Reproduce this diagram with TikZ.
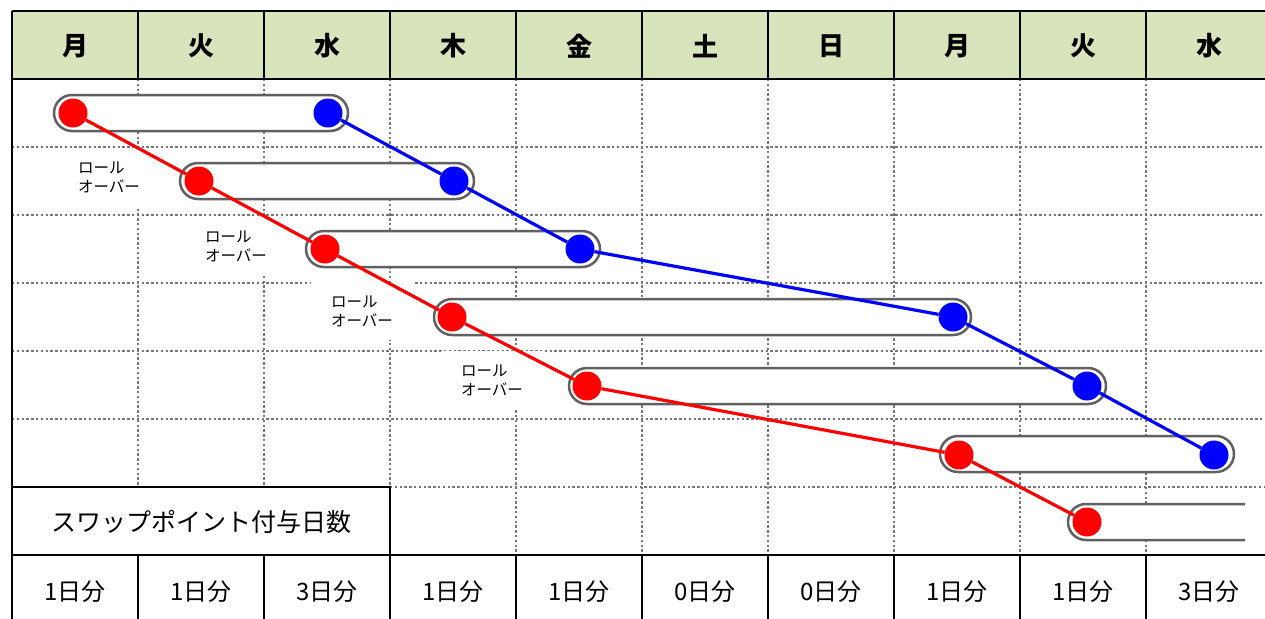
\documentclass[tikz,border=0pt]{standalone}
\usepackage{fontspec}
\setmainfont{Noto Sans CJK JP}
\definecolor{hdr}{HTML}{D8E4BC}
\definecolor{capgray}{HTML}{606060}
\definecolor{gridgray}{HTML}{777777}
\begin{document}
\begin{tikzpicture}[x=1pt,y=-1pt,
 gridline/.style={gridgray, line width=2.2pt, dash pattern=on 2.4pt off 2.4pt},
 hdrline/.style={black, line width=2.8pt},
 solidline/.style={black, line width=2.2pt},
 hdrtext/.style={font=\fontsize{26}{28}\selectfont\bfseries},
 daytext/.style={font=\fontsize{24}{26}\selectfont},
 titletext/.style={font=\fontsize{25}{27}\selectfont},
 capsule/.style={draw=capgray, line width=2.5pt, fill=white, rounded corners=18pt, minimum height=36pt, inner sep=0pt},
 reddot/.style={circle, fill=red, inner sep=0pt, minimum size=29pt},
 bluedot/.style={circle, fill=blue, inner sep=0pt, minimum size=29pt},
 redline/.style={red, line width=3.2pt},
 blueline/.style={blue, line width=3.2pt},
 rollbox/.style={fill=white, minimum width=102pt, minimum height=58pt, align=left, inner sep=0pt, font=\fontsize{15.5}{19}\selectfont},
]
\useasboundingbox (0,0) rectangle (1265,618);
% header fill
\fill[hdr] (12,11) rectangle (1270,79);
% dotted grid
\foreach \y in {147,215,283,351,419} \draw[gridline] (12,\y) -- (1270,\y);
\draw[gridline] (390,487) -- (1270,487);
\foreach \x in {138,264,390} \draw[gridline] (\x,79) -- (\x,487);
\foreach \x in {516,642,768,894,1020,1146} \draw[gridline] (\x,79) -- (\x,555);
% header borders
\draw[hdrline] (12,11) -- (1270,11);
\draw[hdrline] (12,79) -- (1270,79);
\foreach \x in {138,264,390,516,642,768,894,1020,1146} \draw[hdrline] (\x,11) -- (\x,79);
\draw[hdrline] (12,11) -- (12,625);
% lower table
\draw[solidline] (12,487) -- (390,487) -- (390,555);
\draw[solidline] (12,555) -- (1270,555);
\foreach \x in {138,264,390,516,642,768,894,1020,1146} \draw[solidline] (\x,555) -- (\x,625);
% header texts
\foreach \t [count=\i from 0] in {月,火,水,木,金,土,日,月,火,水}
  \node[hdrtext] (h\i) at (75+126*\i,46) {\t};
% bottom texts
\foreach \t [count=\i from 0] in {1,1,3,1,1,0,0,1,1,3}
  \node[daytext] (d\i) at (75+126*\i,592) {\t 日分};
\node[titletext] (title) at (201,522) {スワップポイント付与日数};
% rollover labels
\node[rollbox] (l1) at (109,177) {ロール\\オーバー};
\node[rollbox] (l2) at (236,246) {ロール\\オーバー};
\node[rollbox] (l3) at (362,311) {ロール\\オーバー};
\node[rollbox] (l4) at (492,380) {ロール\\オーバー};
% capsules
\node[capsule, minimum width=294pt] (c1) at (201,113) {};
\node[capsule, minimum width=294pt] (c2) at (327,181) {};
\node[capsule, minimum width=294pt] (c3) at (453,249) {};
\node[capsule, minimum width=537pt] (c4) at (702.5,317) {};
\node[capsule, minimum width=537pt] (c5) at (837.5,386) {};
\node[capsule, minimum width=294pt] (c6) at (1087,454) {};
\filldraw[draw=capgray, line width=2.5pt, fill=white, rounded corners=18pt] (1245,504) -- (1068,504) -- (1068,540) -- (1245,540);
% dots
\node[reddot] (r1) at (73,113) {};
\node[reddot] (r2) at (199,181) {};
\node[reddot] (r3) at (325,249) {};
\node[reddot] (r4) at (452,317) {};
\node[reddot] (r5) at (587,386) {};
\node[reddot] (r6) at (959,455) {};
\node[reddot] (r7) at (1087,522) {};
\node[bluedot] (b1) at (328,113) {};
\node[bluedot] (b2) at (454,181) {};
\node[bluedot] (b3) at (580,249) {};
\node[bluedot] (b4) at (953,317) {};
\node[bluedot] (b5) at (1087,386) {};
\node[bluedot] (b6) at (1214,455) {};
% connectors
\draw[redline] (r1) -- (r2) -- (r3) -- (r4) -- (r5) -- (r6) -- (r7);
\draw[blueline] (b1) -- (b2) -- (b3) -- (b4) -- (b5) -- (b6);
\end{tikzpicture}
\end{document}
